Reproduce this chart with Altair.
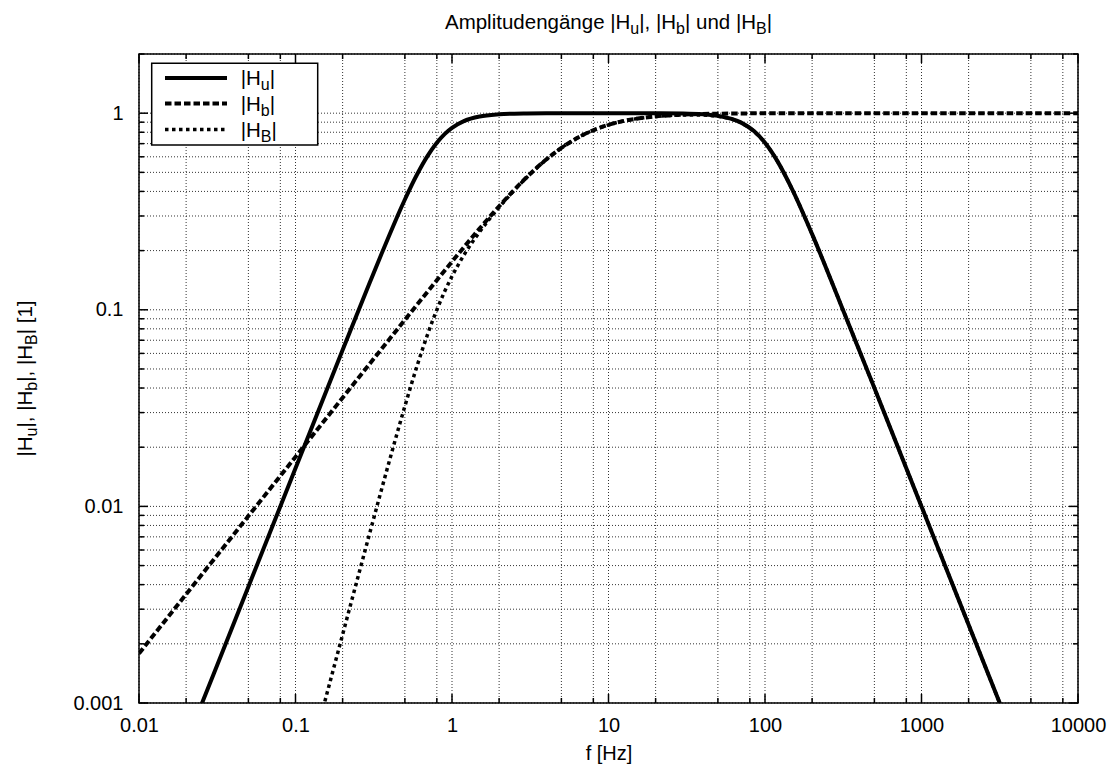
import altair as alt
import pandas as pd

# ---------------- data ----------------
f_u = [0.025, 0.03, 0.05, 0.1, 0.2, 0.3, 0.35, 0.4, 0.45, 0.5, 0.6, 0.7, 0.8, 0.9, 1.0,
       1.2, 1.5, 2, 2.5, 3, 4, 5, 7, 10, 15, 20, 30, 40, 50, 70, 85, 100, 120, 150,
       200, 300, 500, 1000, 2000, 3170]
h_u = [0.000977, 0.001406, 0.003906, 0.01562, 0.0624, 0.1393, 0.188, 0.2425, 0.3017,
       0.3638, 0.4902, 0.6079, 0.7071, 0.7846, 0.842, 0.914, 0.962, 0.987, 0.9948,
       0.997, 0.999, 1.0, 1.0, 1.0, 1.0, 0.999, 0.996, 0.9874, 0.970, 0.898, 0.8106,
       0.707, 0.5704, 0.406, 0.2425, 0.110, 0.040, 0.010, 0.0025, 0.000995]

f_b = [0.01, 0.1, 0.2, 0.3, 0.5, 0.7, 1, 1.5, 2, 3, 4, 5, 7, 10, 15, 20, 30, 50,
       100, 1000, 10000]
h_b = [0.001786, 0.01786, 0.0357, 0.0535, 0.0889, 0.124, 0.1758, 0.2587, 0.3363,
       0.4722, 0.5812, 0.666, 0.781, 0.8725, 0.9368, 0.963, 0.983, 0.9938, 0.9984,
       1.0, 1.0]

f_B = [0.15, 0.2, 0.3, 0.4, 0.5, 0.6, 0.7, 0.8, 0.9, 1, 1.2, 1.5, 2, 3, 4, 5, 7, 10,
       15, 20, 30, 40, 50, 70, 85, 100, 120, 150, 200, 300, 500, 1000, 2000, 3170]
h_B = [0.000941, 0.002228, 0.007453, 0.01728, 0.03234, 0.05223, 0.07538, 0.1, 0.1245,
       0.148, 0.1915, 0.2489, 0.332, 0.4708, 0.5807, 0.666, 0.781, 0.8725, 0.9366,
       0.962, 0.979, 0.9779, 0.964, 0.895, 0.8088, 0.706, 0.5698, 0.406, 0.2425,
       0.110, 0.040, 0.010, 0.0025, 0.000995]

x_major = [0.01, 0.1, 1, 10, 100, 1000, 10000]
x_minor = [0.02, 0.05, 0.08, 0.2, 0.5, 0.8, 2, 5, 8, 20, 50, 80, 200, 500, 800,
           2000, 5000, 8000]
y_major = [0.001, 0.01, 0.1, 1]
y_minor = [0.002, 0.003, 0.004, 0.005, 0.006, 0.007, 0.008, 0.009,
           0.02, 0.03, 0.04, 0.05, 0.06, 0.07, 0.08, 0.09,
           0.2, 0.3, 0.4, 0.5, 0.6, 0.7, 0.8, 0.9, 2]

title_pieces = [("Amplitudengänge |H", False), ("u", True), ("|, |H", False), ("b", True),
                ("| und |H", False), ("B", True), ("|", False)]
ylabel_pieces = [("|H", False), ("u", True), ("|, |H", False), ("b", True),
                 ("|, |H", False), ("B", True), ("| [1]", False)]
legend_rows = [
    ([("|H", False), ("u", True), ("|", False)], None),
    ([("|H", False), ("b", True), ("|", False)], [6.5, 3]),
    ([("|H", False), ("B", True), ("|", False)], [3.5, 3.5]),
]

# ---------------- layout ----------------
W, H = 939, 649
FONT = "Liberation Sans"
FS = 20.5
SUB = 16
SUBDY = 5

xs = alt.Scale(type="log", domain=[0.01, 10000], nice=False)
ys = alt.Scale(type="log", domain=[0.001, 2], nice=False)

common_axis = dict(grid=False, ticks=False, tickSize=0, domain=False, labelFlush=False,
                   labelOverlap=False, labelFont=FONT, labelFontSize=20,
                   labelColor="black", labelExpr="format(datum.value, '~g')")
x_axis = alt.Axis(values=x_major, title="f [Hz]", labelPadding=12, titlePadding=8,
                  titleFont=FONT, titleFontSize=20, titleFontWeight="normal",
                  titleColor="black", **common_axis)
y_axis = alt.Axis(values=y_major, title=None, labelPadding=16, **common_axis)

ARIAL = {"A": 667, "m": 833, "p": 556, "l": 222, "i": 222, "t": 278, "u": 556,
         "d": 556, "e": 556, "n": 556, "g": 556, "ä": 556, " ": 278, "|": 260,
         "H": 722, ",": 278, "b": 556, "B": 667, "[": 278, "]": 278, "1": 556}


def tw(s, size):
    return sum(ARIAL.get(c, 556) for c in s) * size / 1000.0


def pieces_width(pieces):
    return sum(tw(t, SUB if sub else FS) for t, sub in pieces)


def text_layer(t, x, y, size, angle=0):
    df = pd.DataFrame({"t": [t]})
    return alt.Chart(df).mark_text(align="left", baseline="alphabetic", font=FONT,
                                   fontSize=size, angle=angle, color="black").encode(
        text="t:N", x=alt.value(x), y=alt.value(y))


def horiz_text(pieces, x0, y0):
    out = []
    x = x0
    for t, sub in pieces:
        size = SUB if sub else FS
        out.append(text_layer(t, x, y0 + (SUBDY if sub else 0), size))
        x += tw(t, size)
    return out


def vert_text(pieces, x0, y0):
    out = []
    y = y0
    for t, sub in pieces:
        size = SUB if sub else FS
        out.append(text_layer(t, x0 + (SUBDY if sub else 0), y, size, angle=270))
        y -= tw(t, size)
    return out


def X(field):
    return alt.X(field, scale=xs, axis=x_axis)


def Y(field):
    return alt.Y(field, scale=ys, axis=y_axis)


layers = []

# grid
gx = pd.DataFrame({"v": x_major + x_minor})
gy = pd.DataFrame({"v": y_major + y_minor})
layers.append(alt.Chart(gx).mark_rule(color="black", strokeWidth=1, strokeDash=[1, 2],
                                      opacity=0.8).encode(x=X("v:Q")))
layers.append(alt.Chart(gy).mark_rule(color="black", strokeWidth=1, strokeDash=[1, 2],
                                      opacity=0.8).encode(y=Y("v:Q")))

# inward ticks on all four sides
for vals, L in ((x_major, 9), (x_minor, 5)):
    df = pd.DataFrame({"v": vals})
    for y0, y1 in ((H, H - L), (0, L)):
        layers.append(alt.Chart(df).mark_rule(color="black", strokeWidth=1.5).encode(
            x=X("v:Q"), y=alt.value(y0), y2=alt.value(y1)))
for vals, L in ((y_major, 9), (y_minor, 5)):
    df = pd.DataFrame({"v": vals})
    for x0, x1 in ((0, L), (W, W - L)):
        layers.append(alt.Chart(df).mark_rule(color="black", strokeWidth=1.5).encode(
            y=Y("v:Q"), x=alt.value(x0), x2=alt.value(x1)))

# curves
dfB = pd.DataFrame({"f": f_B, "h": h_B})
dfb = pd.DataFrame({"f": f_b, "h": h_b})
dfu = pd.DataFrame({"f": f_u, "h": h_u})

layers.append(alt.Chart(dfB).mark_line(color="black", strokeWidth=3.5, clip=True,
                                       interpolate="monotone", strokeDash=[3.5, 3.5]).encode(
    x=X("f:Q"), y=Y("h:Q")))
layers.append(alt.Chart(dfb).mark_line(color="black", strokeWidth=4, clip=True,
                                       interpolate="monotone", strokeDash=[6.5, 3]).encode(
    x=X("f:Q"), y=Y("h:Q")))
layers.append(alt.Chart(dfu).mark_line(color="black", strokeWidth=4, clip=True,
                                       interpolate="monotone").encode(
    x=X("f:Q"), y=Y("h:Q")))

# frame
box = pd.DataFrame({"a": [0]})
layers.append(alt.Chart(box).mark_rect(fillOpacity=0, stroke="black", strokeWidth=1.5).encode(
    x=alt.value(0), x2=alt.value(W), y=alt.value(0), y2=alt.value(H)))

# legend
layers.append(alt.Chart(box).mark_rect(fill="white", stroke="black", strokeWidth=1.5).encode(
    x=alt.value(12.7), x2=alt.value(178.7), y=alt.value(9.3), y2=alt.value(91)))
row_y = [24, 49.5, 75.5]
for (pieces, dash), ry in zip(legend_rows, row_y):
    kw = dict(color="black", strokeWidth=4 if dash != [3.5, 3.5] else 3.5)
    if dash is not None:
        kw["strokeDash"] = dash
    layers.append(alt.Chart(box).mark_rule(**kw).encode(
        x=alt.value(26), x2=alt.value(88), y=alt.value(ry)))
    layers += horiz_text(pieces, 101.7, ry + 7)

# title and y-axis label
tw_title = pieces_width(title_pieces)
layers += horiz_text(title_pieces, W / 2 - tw_title / 2, -24.7)
tw_y = pieces_width(ylabel_pieces)
layers += vert_text(ylabel_pieces, -107.3, H / 2 + tw_y / 2)

chart = alt.layer(*layers).properties(
    width=W, height=H, autosize="none", background="white",
    padding={"left": 131, "top": 46, "right": 32, "bottom": 64},
).configure_view(stroke=None)

chart.save("out.html", embed_options={"renderer": "svg", "actions": False})
